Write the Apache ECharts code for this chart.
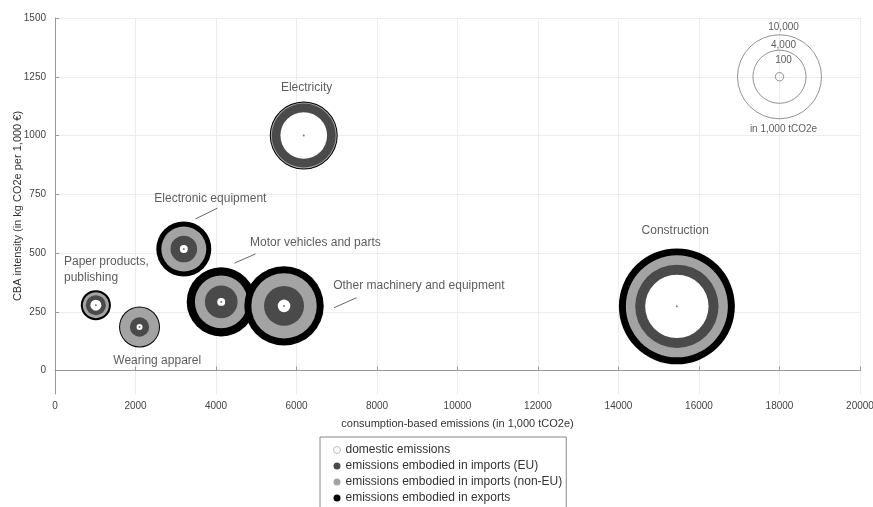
<!DOCTYPE html>
<html>
<head>
<meta charset="utf-8">
<script src="https://cdn.jsdelivr.net/npm/echarts@6/dist/echarts.min.js"></script>
<style>
  html, body { margin: 0; padding: 0; background: #fff; }
  #chart { width: 873px; height: 507px; }
</style>
</head>
<body>
<div id="chart"></div>
<script>
// sectors, drawn in this order (later ones on top)
const sectors = [
  "Paper products, publishing",
  "Wearing apparel",
  "Electronic equipment",
  "Motor vehicles and parts",
  "Other machinery and equipment",
  "Electricity",
  "Construction",
];
// consumption-based emissions (1,000 tCO2e) and CBA intensity (kg CO2e per 1,000 EUR)
const consumption = [1015, 2100, 3200, 4130, 5690, 6180, 15450];
const intensity = [278, 185, 517, 292, 275, 1000, 273];

// ring components (1,000 tCO2e)
const domestic = [170, 50, 90, 90, 225, 3080, 5700];
const importsEU = [400, 480, 910, 1420, 2040, 2720, 4150];
const importsNonEU = [390, 1620, 1870, 2420, 3800, 370, 4900];
const exportsEmb = [320, 230, 1420, 2830, 2870, 380, 4300];

// size key
const keyValues = [10000, 4000, 100];
const keyPos = [18000, 1250];
const keyLabels = ["10,000", "4,000", "100", "in 1,000 tCO2e"];
const keyLabelY = [1462, 1385, 1321, 1027];

// sector labels (text centre in data units)
const labelPos = [
  [224, 428],
  [2540, 40],
  [3860, 730],
  [6470, 543],
  [9040, 360],
  [6250, 1204],
  [15410, 594],
];
// leader lines
const leaders = [
  [[3490, 645], [4035, 691]],
  [[4460, 457], [4980, 496]],
  [[6930, 267], [7495, 310]],
];

const yTicks = [0, 250, 500, 750, 1000, 1250, 1500];

const LAYERS = [
  { name: "emissions embodied in exports", color: "#000000" },
  { name: "emissions embodied in imports (non-EU)", color: "#a3a3a3" },
  { name: "emissions embodied in imports (EU)", color: "#4a4a4a" },
  { name: "domestic emissions", color: "#ffffff" },
];

const K = 0.42; // px radius per sqrt(value)
const diam = (v) => 2 * K * Math.sqrt(v);

const FONT = "'Liberation Sans', Arial, sans-serif";
const plain = (v) => String(v);

const series = [];

sectors.forEach((s, i) => {
  const cum3 = domestic[i] + importsEU[i] + importsNonEU[i];
  const cums = [
    cum3 + exportsEmb[i],
    cum3,
    domestic[i] + importsEU[i],
    domestic[i],
  ];
  LAYERS.forEach((layer, j) => {
    series.push({
      name: layer.name,
      type: "scatter",
      symbol: "circle",
      symbolSize: diam(cums[j]),
      silent: true,
      itemStyle: { color: layer.color, opacity: 1 },
      data: [[consumption[i], intensity[i]]],
    });
  });
});

// centre dots
series.push({
  type: "scatter",
  symbolSize: 2,
  silent: true,
  itemStyle: { color: "#555" },
  data: consumption.map((x, i) => [x, intensity[i]]),
});

// size key circles
series.push({
  type: "scatter",
  silent: true,
  symbolSize: (val, p) => diam(keyValues[p.dataIndex]),
  itemStyle: { color: "rgba(0,0,0,0)", borderColor: "#777", borderWidth: 1 },
  data: keyValues.map(() => keyPos.slice()),
});

// size key labels
series.push({
  type: "scatter",
  silent: true,
  symbolSize: 0,
  label: {
    show: true,
    position: "inside",
    formatter: (p) => keyLabels[p.dataIndex],
    color: "#333",
    fontSize: 10,
    fontFamily: FONT,
  },
  data: keyLabelY.map((y) => [18100, y]),
});

// sector labels
series.push({
  type: "scatter",
  silent: true,
  symbolSize: 0,
  label: {
    show: true,
    position: "inside",
    formatter: (p) => p.name,
    color: "#333",
    fontSize: 12,
    fontFamily: FONT,
  },
  data: sectors.map((s, i) => {
    const item = {
      name: i === 0 ? "Paper products,\npublishing" : s,
      value: labelPos[i],
    };
    if (i === 0) item.label = { align: "left", lineHeight: 16 };
    return item;
  }),
});

// leader lines
series.push({
  type: "lines",
  coordinateSystem: "cartesian2d",
  silent: true,
  lineStyle: { color: "#666", width: 1, opacity: 1 },
  data: leaders.map((c) => ({ coords: c })),
});

const option = {
  animation: false,
  backgroundColor: "#fff",
  textStyle: { fontFamily: FONT },
  grid: {
    left: 55,
    right: 13,
    top: 18,
    bottom: 113,
    containLabel: false,
    outerBoundsMode: "none",
  },
  xAxis: {
    type: "value",
    min: 0,
    max: 20000,
    interval: 2000,
    name: "consumption-based emissions (in 1,000 tCO2e)",
    nameLocation: "middle",
    nameGap: 24,
    nameMoveOverlap: false,
    nameTextStyle: { color: "#333", fontSize: 11, fontFamily: FONT },
    axisLine: { show: true, lineStyle: { color: "#999" } },
    axisTick: { show: true, inside: true, length: 4, lineStyle: { color: "#999" } },
    axisLabel: {
      color: "#444",
      fontSize: 10,
      margin: 7,
      fontFamily: FONT,
      formatter: plain,
    },
    splitLine: { show: true, lineStyle: { color: "#ececec" } },
  },
  yAxis: {
    type: "value",
    min: -100,
    max: 1500,
    name: "CBA intensity (in kg CO2e per 1,000 €)",
    nameLocation: "middle",
    nameGap: 32,
    nameMoveOverlap: false,
    nameTextStyle: { color: "#333", fontSize: 11, fontFamily: FONT },
    axisLine: { show: true, lineStyle: { color: "#999" } },
    axisTick: {
      show: true,
      inside: true,
      length: 4,
      lineStyle: { color: "#999" },
      customValues: yTicks,
    },
    axisLabel: {
      color: "#444",
      fontSize: 10,
      margin: 9,
      fontFamily: FONT,
      customValues: yTicks,
      formatter: plain,
    },
    splitLine: { show: true, lineStyle: { color: "#ececec" } },
  },
  legend: {
    orient: "vertical",
    left: 320,
    top: 437,
    height: 100,
    padding: [6, 4, 6, 13],
    itemGap: 2,
    itemWidth: 7,
    itemHeight: 7,
    icon: "circle",
    borderColor: "#888",
    borderWidth: 1,
    selectedMode: false,
    textStyle: { color: "#333", fontSize: 12, lineHeight: 14, fontFamily: FONT },
    data: [
      { name: "domestic emissions", itemStyle: { borderColor: "#bbb", borderWidth: 1 } },
      "emissions embodied in imports (EU)",
      "emissions embodied in imports (non-EU)",
      "emissions embodied in exports",
    ],
  },
  series: series,
};

const chart = echarts.init(document.getElementById("chart"));
chart.setOption(option);
</script>
</body>
</html>
